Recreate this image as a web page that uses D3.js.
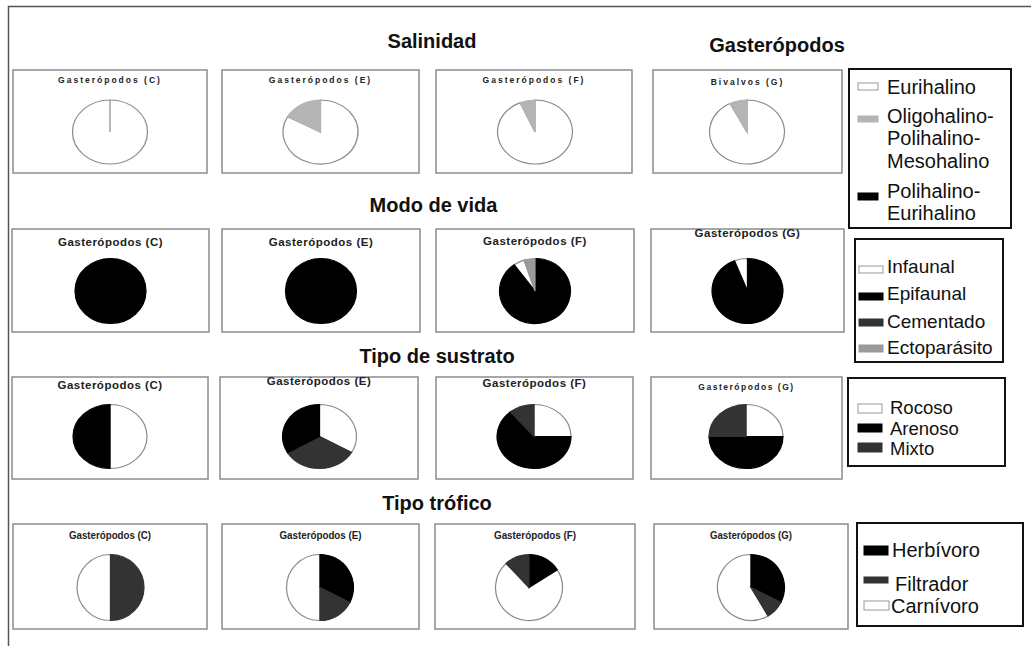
<!DOCTYPE html>
<html><head><meta charset="utf-8">
<script src="https://cdn.jsdelivr.net/npm/d3@7"></script>
<style>body{margin:0;background:#fff}svg{display:block}</style>
</head><body><svg id="c" width="1031" height="646"></svg>
<script>
// ---------- DATA ----------
const seccionTitulos = ["Salinidad", "Modo de vida", "Tipo de sustrato", "Tipo trófico"];
const grupoTitulo = "Gasterópodos";

const salinidadCategorias = ["Eurihalino", "Oligohalino-Polihalino-Mesohalino", "Polihalino-Eurihalino"];
const salinidadColores = ["#ffffff", "#b4b4b4", "#000000"];
const salinidadTitulos = ["Gasterópodos (C)", "Gasterópodos (E)", "Gasterópodos (F)", "Bivalvos (G)"];
const salinidadPorciones = [
  [["Eurihalino", 100]],
  [["Eurihalino", 83], ["Oligohalino-Polihalino-Mesohalino", 17]],
  [["Eurihalino", 93.5], ["Oligohalino-Polihalino-Mesohalino", 6.5]],
  [["Eurihalino", 92.5], ["Oligohalino-Polihalino-Mesohalino", 7.5]]
];

const modoCategorias = ["Infaunal", "Epifaunal", "Cementado", "Ectoparásito"];
const modoColores = ["#ffffff", "#000000", "#333333", "#9a9a9a"];
const modoTitulos = ["Gasterópodos (C)", "Gasterópodos (E)", "Gasterópodos (F)", "Gasterópodos (G)"];
const modoPorciones = [
  [["Epifaunal", 100]],
  [["Epifaunal", 100]],
  [["Epifaunal", 90], ["Infaunal", 5], ["Ectoparásito", 5]],
  [["Epifaunal", 94], ["Infaunal", 6]]
];

const sustratoCategorias = ["Rocoso", "Arenoso", "Mixto"];
const sustratoColores = ["#ffffff", "#000000", "#333333"];
const sustratoTitulos = ["Gasterópodos (C)", "Gasterópodos (E)", "Gasterópodos (F)", "Gasterópodos (G)"];
const sustratoPorciones = [
  [["Rocoso", 50], ["Arenoso", 50]],
  [["Rocoso", 33.3], ["Mixto", 33.3], ["Arenoso", 33.4]],
  [["Rocoso", 25], ["Arenoso", 64], ["Mixto", 11]],
  [["Rocoso", 25], ["Arenoso", 50], ["Mixto", 25]]
];

const troficoCategorias = ["Herbívoro", "Filtrador", "Carnívoro"];
const troficoColores = ["#000000", "#333333", "#ffffff"];
const troficoTitulos = ["Gasterópodos (C)", "Gasterópodos (E)", "Gasterópodos (F)", "Gasterópodos (G)"];
const troficoPorciones = [
  [["Filtrador", 50], ["Carnívoro", 50]],
  [["Herbívoro", 32.5], ["Filtrador", 17.5], ["Carnívoro", 50]],
  [["Herbívoro", 16], ["Carnívoro", 72], ["Filtrador", 12]],
  [["Herbívoro", 32.5], ["Filtrador", 9], ["Carnívoro", 58.5]]
];

// ---------- LAYOUT ----------
const svg = d3.select("#c");
const FONT = "'Liberation Sans', Arial, sans-serif";

svg.append("path").attr("d", "M8.5,646 V6.5 H1031").attr("fill", "none")
  .attr("stroke", "#555").attr("stroke-width", 1.5);

const filas = [
  { cats: salinidadCategorias, cols: salinidadColores, titulos: salinidadTitulos, porciones: salinidadPorciones,
    y0: 70, y1: 173, xs: [[13,207],[222,419],[436,632],[653,842]], cy: 132, cxs: [110,320.5,535,747], rx: 37.5, ry: 32,
    tStyle: ["small","small","small","small"], tY: [83,83,83,85],
    leg: [849,69,1011,228], legFont: 20, legItems: [
      { sw: [858,83,20,7], tx: 887, bl: [94] },
      { sw: [858,116,20,6], tx: 887, bl: [123,145,168] },
      { sw: [858,193,20,7], tx: 887, bl: [198,220] }] },
  { cats: modoCategorias, cols: modoColores, titulos: modoTitulos, porciones: modoPorciones,
    y0: 229, y1: 332, xs: [[12,209],[222,420],[436,634],[651,844]], cy: 291, cxs: [110.5,321,535,747.5], rx: 35.5, ry: 32.5,
    tStyle: ["big","big","big","big"], tY: [246,246,245,237],
    leg: [855,239,1003,362], legFont: 19, legItems: [
      { sw: [859,266,24,7], tx: 887, bl: [273] },
      { sw: [859,293,24,7], tx: 887, bl: [300] },
      { sw: [859,319,24,7], tx: 887, bl: [328] },
      { sw: [859,345,24,7], tx: 887, bl: [354] }] },
  { cats: sustratoCategorias, cols: sustratoColores, titulos: sustratoTitulos, porciones: sustratoPorciones,
    y0: 377, y1: 479, xs: [[12,208],[220,418],[436,633],[651,842]], cy: 436.5, cxs: [110,319.5,534,746], rx: 37, ry: 32,
    tStyle: ["big","big","big","small"], tY: [389,385,387,390],
    leg: [848,378,1005,466], legFont: 18.5, clipY: 456, legItems: [
      { sw: [858,404,24,9], tx: 890, bl: [414] },
      { sw: [858,424,24,8], tx: 890, bl: [434.5] },
      { sw: [858,443,24,9], tx: 890, bl: [455] }] },
  { cats: troficoCategorias, cols: troficoColores, titulos: troficoTitulos, porciones: troficoPorciones,
    y0: 524, y1: 629, xs: [[13,207],[222,419],[435,635],[654,848]], cy: 587.5, cxs: [110.5,320,529,751], rx: 33.5, ry: 33,
    tStyle: ["cond","cond","cond","cond"], tY: [539,539,539,539],
    leg: [857,523,1023,626], legFont: 20, legItems: [
      { sw: [864,546,24,9], tx: 892, bl: [557] },
      { sw: [864,577,24,6], tx: 895, bl: [591] },
      { sw: [864,601,25,9], tx: 891, bl: [613] }] }
];

const secPos = [[432,48],[433.5,212],[437,363],[437,510]];
seccionTitulos.forEach((t, i) => {
  svg.append("text").attr("x", secPos[i][0]).attr("y", secPos[i][1]).attr("text-anchor", "middle")
    .attr("font-family", FONT).attr("font-weight", "bold").attr("font-size", 20).attr("fill", "#111").text(t);
});
svg.append("text").attr("x", 777).attr("y", 52).attr("text-anchor", "middle")
  .attr("font-family", FONT).attr("font-weight", "bold").attr("font-size", 20).attr("fill", "#111").text(grupoTitulo);

const R = 100;
const pie = d3.pie().sort(null).value(d => d[1]);
const arc = d3.arc().innerRadius(0).outerRadius(R);

filas.forEach((f, fi) => {
  const color = d3.scaleOrdinal(f.cats, f.cols);
  f.porciones.forEach((sl, i) => {
    const [x0, x1] = f.xs[i];
    const g = svg.append("g");
    g.append("rect").attr("x", x0).attr("y", f.y0).attr("width", x1 - x0).attr("height", f.y1 - f.y0)
      .attr("fill", "#fff").attr("stroke", "#8c8c8c").attr("stroke-width", 1.5);
    const st = f.tStyle[i];
    const t = g.append("text").attr("x", (x0 + x1) / 2).attr("y", f.tY[i]).attr("text-anchor", "middle")
      .attr("font-family", FONT).attr("font-weight", "bold").attr("fill", "#222").text(f.titulos[i]);
    if (st === "small") t.attr("font-size", 8.5).attr("letter-spacing", fi === 0 ? 2 : 1.5);
    else if (st === "big") t.attr("font-size", 11.5).attr("letter-spacing", 0.5);
    else t.attr("font-size", 10.5).attr("textLength", 82).attr("lengthAdjust", "spacingAndGlyphs");

    const gp = g.append("g").attr("transform", `translate(${f.cxs[i]},${f.cy}) scale(${f.rx / R},${f.ry / R})`);
    const arcs = pie(sl.filter(d => d[1] > 0));
    const sorted = arcs.slice().sort((a, b) => (color(a.data[0]) === "#ffffff" ? 0 : 1) - (color(b.data[0]) === "#ffffff" ? 0 : 1));
    gp.selectAll("path").data(sorted).join("path")
      .attr("d", arc)
      .attr("fill", d => color(d.data[0]))
      .attr("stroke", d => color(d.data[0]) === "#ffffff" ? "#8a8a8a" : color(d.data[0]))
      .attr("stroke-width", 1.2)
      .attr("vector-effect", "non-scaling-stroke");
    if (arcs.length === 1) {
      const c = color(arcs[0].data[0]);
      gp.append("line").attr("x1", 0).attr("y1", 0).attr("x2", 0).attr("y2", -R)
        .attr("stroke", c === "#ffffff" ? "#8a8a8a" : c).attr("stroke-width", 1.2)
        .attr("vector-effect", "non-scaling-stroke");
    }
  });

  // legend
  const [lx0, ly0, lx1, ly1] = f.leg;
  svg.append("rect").attr("x", lx0).attr("y", ly0).attr("width", lx1 - lx0).attr("height", ly1 - ly0)
    .attr("fill", "#fff").attr("stroke", "#111").attr("stroke-width", 2);
  const lg = svg.append("g");
  if (f.clipY) {
    svg.append("clipPath").attr("id", "clip" + fi).append("rect")
      .attr("x", lx0).attr("y", ly0).attr("width", lx1 - lx0).attr("height", f.clipY - ly0);
    lg.attr("clip-path", `url(#clip${fi})`);
  }
  f.cats.forEach((cat, k) => {
    const it = f.legItems[k];
    const c = color(cat);
    lg.append("rect").attr("x", it.sw[0]).attr("y", it.sw[1]).attr("width", it.sw[2]).attr("height", it.sw[3])
      .attr("fill", c).attr("stroke", c === "#ffffff" ? "#999" : c).attr("stroke-width", 1);
    const lines = cat.split(/(?<=-)/);
    lines.forEach((ln, j) => {
      lg.append("text").attr("x", it.tx).attr("y", it.bl[j]).attr("font-family", FONT)
        .attr("font-size", f.legFont).attr("fill", "#111").text(ln);
    });
  });
});
</script></body></html>
